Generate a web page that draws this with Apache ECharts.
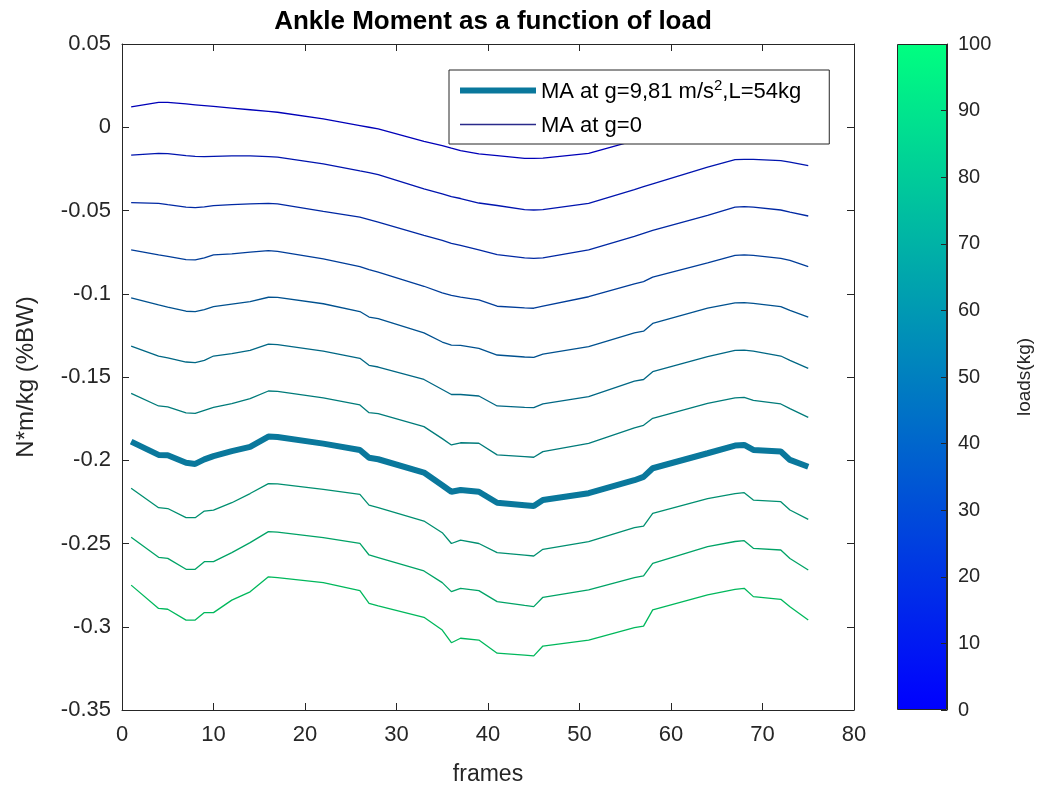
<!DOCTYPE html>
<html>
<head>
<meta charset="utf-8">
<script src="https://cdn.jsdelivr.net/npm/echarts@6.0.0/dist/echarts.min.js"></script>
<style>
  html, body { margin: 0; padding: 0; background: #fff; }
  #chart { width: 1041px; height: 793px; }
</style>
</head>
<body>
<div id="chart"></div>
<script>
const frames = [1, 4, 5, 7, 8, 9, 10, 12, 14, 16, 17, 22, 26, 27, 28, 33, 35, 36, 37, 39, 41, 44, 45, 46, 51, 56, 57, 58, 64, 67, 68, 69, 72, 73, 75];

// MA at g=0, one curve per load, top (blue) to bottom (green)
const thinLoads = [0, 11, 22, 33, 44, 56, 67, 78, 89, 100];
const g0_1 = [0.0123, 0.0150, 0.0150, 0.0140, 0.0135, 0.0130, 0.0125, 0.0115, 0.0105, 0.0095, 0.0090, 0.0050, 0.0010, 0.0000, -0.0010, -0.0085, -0.0110, -0.0126, -0.0140, -0.0160, -0.0170, -0.0187, -0.0187, -0.0185, -0.0157, -0.0080, -0.0065, -0.0050, 0.0040, 0.0085, 0.0090, 0.0090, 0.0080, 0.0070, 0.0050];
const g0_2 = [-0.0167, -0.0157, -0.0158, -0.0170, -0.0175, -0.0177, -0.0175, -0.0172, -0.0172, -0.0177, -0.0180, -0.0220, -0.0262, -0.0272, -0.0285, -0.0370, -0.0400, -0.0417, -0.0428, -0.0455, -0.0470, -0.0495, -0.0497, -0.0495, -0.0457, -0.0375, -0.0357, -0.0340, -0.0240, -0.0195, -0.0193, -0.0193, -0.0200, -0.0210, -0.0230];
const g0_3 = [-0.0453, -0.0457, -0.0465, -0.0480, -0.0483, -0.0478, -0.0471, -0.0465, -0.0460, -0.0457, -0.0460, -0.0505, -0.0540, -0.0555, -0.0570, -0.0650, -0.0680, -0.0697, -0.0710, -0.0737, -0.0765, -0.0785, -0.0787, -0.0785, -0.0737, -0.0655, -0.0637, -0.0620, -0.0530, -0.0480, -0.0477, -0.0480, -0.0497, -0.0510, -0.0533];
const g0_4 = [-0.0737, -0.0767, -0.0775, -0.0795, -0.0797, -0.0785, -0.0767, -0.0760, -0.0750, -0.0741, -0.0745, -0.0790, -0.0837, -0.0855, -0.0870, -0.0955, -0.0995, -0.1010, -0.1020, -0.1037, -0.1075, -0.1085, -0.1087, -0.1075, -0.1018, -0.0940, -0.0927, -0.0900, -0.0815, -0.0770, -0.0767, -0.0770, -0.0787, -0.0800, -0.0837];
const g0_5 = [-0.1025, -0.1067, -0.1080, -0.1105, -0.1107, -0.1095, -0.1077, -0.1062, -0.1047, -0.1021, -0.1022, -0.1060, -0.1107, -0.1140, -0.1150, -0.1235, -0.1290, -0.1308, -0.1310, -0.1328, -0.1368, -0.1380, -0.1382, -0.1362, -0.1318, -0.1235, -0.1225, -0.1178, -0.1087, -0.1055, -0.1053, -0.1058, -0.1077, -0.1100, -0.1141];
const g0_6 = [-0.1314, -0.1374, -0.1385, -0.1410, -0.1414, -0.1400, -0.1374, -0.1360, -0.1340, -0.1302, -0.1305, -0.1345, -0.1388, -0.1430, -0.1440, -0.1515, -0.1575, -0.1605, -0.1605, -0.1614, -0.1674, -0.1682, -0.1684, -0.1662, -0.1618, -0.1525, -0.1515, -0.1468, -0.1378, -0.1340, -0.1338, -0.1345, -0.1374, -0.1400, -0.1448];
const g0_7 = [-0.1598, -0.1674, -0.1680, -0.1715, -0.1718, -0.1700, -0.1682, -0.1660, -0.1630, -0.1584, -0.1586, -0.1625, -0.1668, -0.1714, -0.1720, -0.1798, -0.1870, -0.1908, -0.1895, -0.1898, -0.1968, -0.1978, -0.1982, -0.1948, -0.1898, -0.1805, -0.1790, -0.1748, -0.1658, -0.1625, -0.1622, -0.1640, -0.1662, -0.1690, -0.1742];
const g0_8 = [-0.2168, -0.2285, -0.2290, -0.2345, -0.2345, -0.2305, -0.2300, -0.2255, -0.2200, -0.2140, -0.2142, -0.2175, -0.2205, -0.2270, -0.2285, -0.2365, -0.2435, -0.2500, -0.2480, -0.2500, -0.2555, -0.2570, -0.2575, -0.2535, -0.2489, -0.2405, -0.2395, -0.2319, -0.2230, -0.2200, -0.2195, -0.2239, -0.2249, -0.2299, -0.2355];
const g0_9 = [-0.2463, -0.2583, -0.2589, -0.2655, -0.2655, -0.2609, -0.2609, -0.2555, -0.2495, -0.2429, -0.2432, -0.2465, -0.2499, -0.2569, -0.2585, -0.2665, -0.2735, -0.2789, -0.2769, -0.2783, -0.2849, -0.2872, -0.2879, -0.2823, -0.2779, -0.2705, -0.2695, -0.2619, -0.2519, -0.2488, -0.2483, -0.2529, -0.2539, -0.2590, -0.2659];
const g0_10 = [-0.2750, -0.2890, -0.2895, -0.2960, -0.2960, -0.2915, -0.2915, -0.2840, -0.2790, -0.2700, -0.2705, -0.2735, -0.2783, -0.2859, -0.2875, -0.2943, -0.3020, -0.3096, -0.3069, -0.3080, -0.3159, -0.3170, -0.3175, -0.3116, -0.3080, -0.3005, -0.2996, -0.2899, -0.2809, -0.2775, -0.2769, -0.2819, -0.2835, -0.2880, -0.2959];

// MA at g=9.81, L=54kg (thick line)
const ma54 = [-0.1888, -0.1968, -0.1970, -0.2015, -0.2022, -0.1995, -0.1975, -0.1945, -0.1920, -0.1858, -0.1860, -0.1900, -0.1938, -0.1985, -0.1994, -0.2074, -0.2150, -0.2189, -0.2179, -0.2189, -0.2255, -0.2270, -0.2275, -0.2239, -0.2198, -0.2120, -0.2100, -0.2048, -0.1958, -0.1912, -0.1908, -0.1938, -0.1948, -0.1998, -0.2039];

const xTicks = [0, 80, 10];
const yTicks = [-0.35, 0.05, 0.05];
const cbTicks = [0, 100, 10];

const thickName = 'MA at g=9,81 m/s2,L=54kg';
const thinName = 'MA at g=0';
const FONT = "'Liberation Sans', Arial, Helvetica, sans-serif";
const INK = '#262626';
const THICK = '#0a789c';

// matlab 'winter' colormap, a bit darker for the thin lines
function winter(load, k) {
  const t = load / 100;
  const g = Math.round(255 * t * k);
  const b = Math.round(255 * (1 - t / 2) * k);
  return 'rgb(0,' + g + ',' + b + ')';
}

const thinSets = [g0_1, g0_2, g0_3, g0_4, g0_5, g0_6, g0_7, g0_8, g0_9, g0_10];
const pairs = arr => frames.map((f, i) => [f, arr[i]]);

const series = thinSets.map((arr, i) => ({
  name: thinName,
  type: 'line',
  xAxisIndex: 0,
  yAxisIndex: 0,
  symbol: 'none',
  data: pairs(arr),
  lineStyle: { width: 1.3, color: winter(thinLoads[i], 0.72) },
  itemStyle: { color: winter(thinLoads[i], 0.72) },
  z: 2
}));

series.push({
  name: thickName,
  type: 'line',
  xAxisIndex: 0,
  yAxisIndex: 0,
  symbol: 'none',
  data: pairs(ma54),
  lineStyle: { width: 6, color: THICK },
  itemStyle: { color: THICK },
  z: 3
});

// colorbar drawn as one full-width bar in its own grid
series.push({
  type: 'bar',
  xAxisIndex: 2,
  yAxisIndex: 2,
  data: [cbTicks[1]],
  barWidth: '100%',
  silent: true,
  z: 1,
  itemStyle: {
    borderColor: INK,
    borderWidth: 1,
    color: {
      type: 'linear', x: 0, y: 1, x2: 0, y2: 0,
      colorStops: [
        { offset: 0, color: winter(0, 1) },
        { offset: 1, color: winter(100, 1) }
      ]
    }
  }
});

const tickLabel = { color: INK, fontFamily: FONT, fontSize: 22 };
const frameAxis = { show: true, onZero: false, lineStyle: { color: INK, width: 1 } };
const inTick = { inside: true, length: 7, lineStyle: { color: INK } };

const option = {
  backgroundColor: '#fff',
  animation: false,
  title: {
    text: 'Ankle Moment as a function of load',
    left: 488,
    top: 4,
    textAlign: 'center',
    textStyle: { fontFamily: FONT, fontSize: 26, fontWeight: 'bold', color: '#000' }
  },
  legend: {
    data: [
      { name: thickName, lineStyle: { width: 6, color: THICK } },
      { name: thinName, lineStyle: { width: 1.3, color: '#2a2a8a' } }
    ],
    orient: 'vertical',
    left: 449,
    top: 70,
    padding: [8, 28, 7, 8],
    itemWidth: 76,
    itemHeight: 14,
    itemGap: 12,
    itemStyle: { opacity: 0 },
    backgroundColor: '#fff',
    borderColor: INK,
    borderWidth: 1,
    borderRadius: 0,
    z: 10,
    formatter: name => name === thickName
      ? '{a|MA at g=9,81 m/s}{s|2}{a|,L=54kg}'
      : '{a|' + name + '}',
    textStyle: {
      color: '#000',
      fontFamily: FONT,
      rich: {
        a: { fontSize: 22, fontFamily: FONT, color: '#000', lineHeight: 25, verticalAlign: 'bottom' },
        s: { fontSize: 15, fontFamily: FONT, color: '#000', lineHeight: 15, verticalAlign: 'top' }
      }
    }
  },
  grid: [
    { left: 122, right: 187, top: 44, bottom: 83 },
    { left: 897, right: 94, top: 44, bottom: 83 }
  ],
  xAxis: [
    {
      type: 'value', gridIndex: 0,
      min: xTicks[0], max: xTicks[1], interval: xTicks[2],
      name: 'frames', nameLocation: 'middle', nameGap: 53,
      nameTextStyle: { color: INK, fontFamily: FONT, fontSize: 23 },
      axisLine: frameAxis,
      axisTick: inTick,
      axisLabel: Object.assign({ margin: 14 }, tickLabel),
      splitLine: { show: false }
    },
    {
      type: 'value', gridIndex: 0, position: 'top',
      min: xTicks[0], max: xTicks[1], interval: xTicks[2],
      axisLine: frameAxis,
      axisTick: inTick,
      axisLabel: { show: false },
      splitLine: { show: false }
    },
    {
      type: 'category', gridIndex: 1, data: ['cb'], show: false
    }
  ],
  yAxis: [
    {
      type: 'value', gridIndex: 0,
      min: yTicks[0], max: yTicks[1], interval: yTicks[2],
      name: 'N*m/kg (%BW)', nameLocation: 'middle', nameGap: 84, nameRotate: 90,
      nameTextStyle: { color: INK, fontFamily: FONT, fontSize: 24 },
      axisLine: frameAxis,
      axisTick: inTick,
      axisLabel: Object.assign({ margin: 11, formatter: v => String(+v.toFixed(2)) }, tickLabel),
      splitLine: { show: false }
    },
    {
      type: 'value', gridIndex: 0, position: 'right',
      min: yTicks[0], max: yTicks[1], interval: yTicks[2],
      axisLine: frameAxis,
      axisTick: inTick,
      axisLabel: { show: false },
      splitLine: { show: false }
    },
    {
      type: 'value', gridIndex: 1, position: 'right',
      min: cbTicks[0], max: cbTicks[1], interval: cbTicks[2],
      z: 6,
      name: 'loads(kg)', nameLocation: 'middle', nameGap: 68, nameRotate: 90,
      nameTextStyle: { color: INK, fontFamily: FONT, fontSize: 19 },
      axisLine: frameAxis,
      axisTick: { show: true, inside: true, length: 6, lineStyle: { color: INK, width: 1 } },
      axisLabel: Object.assign({ margin: 11 }, tickLabel, { fontSize: 20 }),
      splitLine: { show: false }
    }
  ],
  series: series
};

const chart = echarts.init(document.getElementById('chart'));
chart.setOption(option);
window.addEventListener('resize', () => chart.resize());
</script>
</body>
</html>
